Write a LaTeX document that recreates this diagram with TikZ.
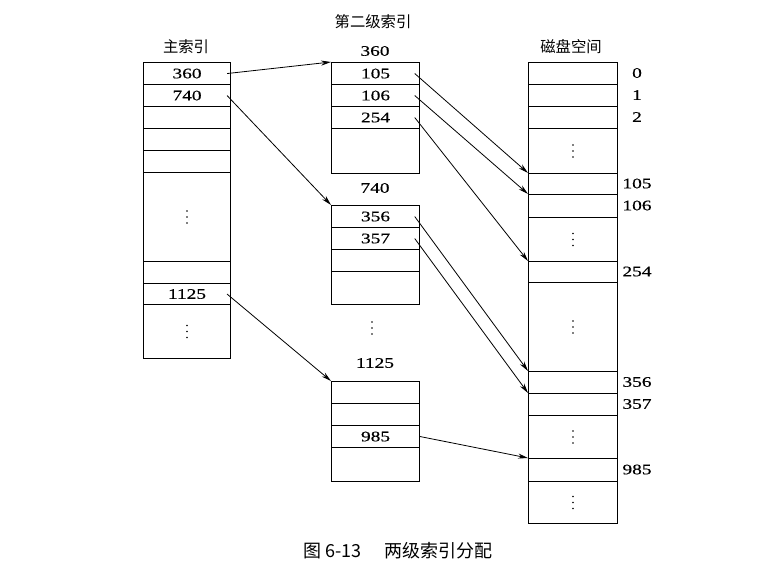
\documentclass[tikz,border=0pt]{standalone}
\usepackage{fontspec}
\setmainfont[FakeStretch=1.32,FakeBold=0.4]{Liberation Serif}
\newfontfamily\cjk{Noto Sans CJK SC}
\usetikzlibrary{arrows.meta}
\begin{document}
\begin{tikzpicture}[x=0.75pt,y=-0.75pt,
  cellbox/.style={draw, line width=0.8pt, inner sep=0pt, anchor=north west,
    font=\fontsize{11}{13}\selectfont},
  cellw/.style={minimum width=#1*0.75pt},
  cellh/.style={minimum height=#1*0.75pt},
  mcell/.style={cellbox, cellw=87},
  scell/.style={cellbox, cellw=88},
  dcell/.style={cellbox, cellw=89},
  lbl/.style={inner sep=0pt, font=\fontsize{11}{13}\selectfont},
  head/.style={inner sep=0pt, font=\cjk\fontsize{11.5}{13}\selectfont},
  arr/.style={line width=0.6pt, -{Stealth[length=7.5pt,width=3.8pt]}},
  vdts/.pic={\fill (0,-6) circle (0.65pt); \fill (0,0) circle (0.65pt); \fill (0,6) circle (0.65pt);}
]
\useasboundingbox (0,0) rectangle (770,578);

% headings
\node[head] (hm) at (186,47) {主索引};
\node[head] (hs) at (373,22) {第二级索引};
\node[head] (hd) at (571,47) {磁盘空间};

% main index
\node[mcell, cellh=22] (m1) at (143,62) {360};
\node[mcell, cellh=22] (m2) at (143,84) {740};
\node[mcell, cellh=22] (m3) at (143,106) {};
\node[mcell, cellh=22] (m4) at (143,128) {};
\node[mcell, cellh=22] (m5) at (143,150) {};
\node[mcell, cellh=89] (m6) at (143,172) {};
\node[mcell, cellh=22] (m7) at (143,261) {};
\node[mcell, cellh=21] (m8) at (143,283) {1125};
\node[mcell, cellh=54] (m9) at (143,304) {};
\pic at (m6.center) {vdts};
\pic at (m9.center) {vdts};

% second level, block 360
\node[lbl] (la) at (375,51) {360};
\node[scell, cellh=22] (a1) at (331,62) {105};
\node[scell, cellh=22] (a2) at (331,84) {106};
\node[scell, cellh=22] (a3) at (331,106) {254};
\node[scell, cellh=45] (a4) at (331,128) {};

% block 740
\node[lbl] (lb) at (375,188) {740};
\node[scell, cellh=22] (b1) at (331,205) {356};
\node[scell, cellh=22] (b2) at (331,227) {357};
\node[scell, cellh=22] (b3) at (331,249) {};
\node[scell, cellh=33] (b4) at (331,271) {};

\coordinate (sdots) at (372,328);
\pic at (sdots) {vdts};

% block 1125
\node[lbl] (lc) at (375,363) {1125};
\node[scell, cellh=22] (c1) at (331,381) {};
\node[scell, cellh=22] (c2) at (331,403) {};
\node[scell, cellh=22] (c3) at (331,425) {985};
\node[scell, cellh=34] (c4) at (331,447) {};

% disk space
\node[dcell, cellh=22] (d0) at (528,62) {};
\node[dcell, cellh=22] (d1) at (528,84) {};
\node[dcell, cellh=22] (d2) at (528,106) {};
\node[dcell, cellh=45] (d3) at (528,128) {};
\node[dcell, cellh=21] (d105) at (528,173) {};
\node[dcell, cellh=23] (d106) at (528,194) {};
\node[dcell, cellh=44] (d4) at (528,217) {};
\node[dcell, cellh=21] (d254) at (528,261) {};
\node[dcell, cellh=89] (d5) at (528,282) {};
\node[dcell, cellh=22] (d356) at (528,371) {};
\node[dcell, cellh=22] (d357) at (528,393) {};
\node[dcell, cellh=43] (d6) at (528,415) {};
\node[dcell, cellh=23] (d985) at (528,458) {};
\node[dcell, cellh=42] (d7) at (528,481) {};
\foreach \c in {d3,d4,d5,d6,d7} \pic at (\c.center) {vdts};

% disk labels
\node[lbl] (n0) at (637,73) {0};
\node[lbl] (n1) at (637,95) {1};
\node[lbl] (n2) at (637,117) {2};
\node[lbl] (n105) at (637,183.5) {105};
\node[lbl] (n106) at (637,205.5) {106};
\node[lbl] (n254) at (637,271.5) {254};
\node[lbl] (n356) at (637,382) {356};
\node[lbl] (n357) at (637,404) {357};
\node[lbl] (n985) at (637,469.5) {985};

% arrows main -> second
\draw[arr] ([xshift=-3pt]m1.east) -- (a1.north west);
\draw[arr] ([xshift=-3pt]m2.east) -- (b1.north west);
\draw[arr] ([xshift=-3pt]m8.east) -- (c1.north west);

% arrows second -> disk
\draw[arr] ([xshift=-4pt]a1.east) -- (d105.north west);
\draw[arr] ([xshift=-4pt]a2.east) -- (d106.north west);
\draw[arr] ([xshift=-4pt]a3.east) -- (d254.north west);
\draw[arr] ([xshift=-4pt]b1.east) -- (d356.north west);
\draw[arr] ([xshift=-4pt]b2.east) -- (d357.north west);
\draw[arr] (c3.east) -- (d985.north west);

% caption
\node[inner sep=0pt, font=\cjk\fontsize{13.5}{16}\selectfont] (cap) at (398,551)
  {图 6-13\hspace{1.3em}两级索引分配};
\end{tikzpicture}
\end{document}
